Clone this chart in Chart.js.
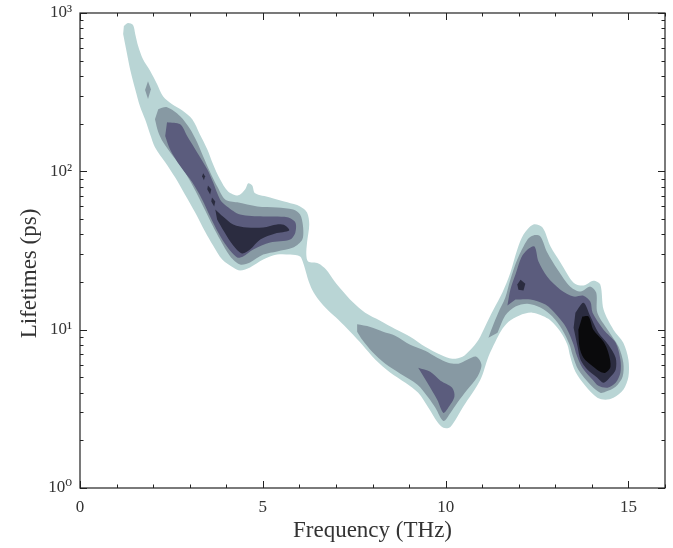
<!DOCTYPE html>
<html>
<head>
<meta charset="utf-8">
<script src="https://cdn.jsdelivr.net/npm/chart.js@4.4.1/dist/chart.umd.min.js"></script>
<style>
  html, body { margin: 0; padding: 0; background: #fff; }
  canvas { display: block; }
</style>
</head>
<body>
<canvas id="contourChart" width="673" height="548"></canvas>
<script>
/**
 * Phonon lifetimes vs frequency, filled density contours
 */

// contour outlines: [frequency THz, lifetime ps]
const outerBand = [
    [1.20, 828], [1.31, 865], [1.45, 839], [1.51, 736], [1.59, 618], [1.72, 512], [1.92, 430], [2.11, 355],
    [2.27, 298], [2.52, 265], [2.79, 243], [3.07, 213], [3.28, 171], [3.48, 138], [3.64, 111], [3.83, 89.1],
    [4.05, 74.7], [4.33, 70.5], [4.52, 77.0], [4.60, 84.0], [4.71, 81.5], [4.79, 72.6], [5.20, 68.4], [5.67, 63.7],
    [6.02, 60.0], [6.21, 55.0], [6.27, 46.2], [6.21, 35.5], [6.19, 29.8], [6.24, 26.9], [6.52, 26.2], [6.73, 24.0],
    [6.95, 20.4], [7.17, 17.7], [7.45, 15.0], [7.80, 12.8], [8.21, 11.4], [8.62, 10.1], [9.03, 9.03], [9.44, 7.81],
    [9.86, 6.95], [10.18, 6.55], [10.46, 6.75], [10.68, 7.47], [10.90, 8.64], [11.09, 10.6], [11.31, 13.4], [11.55, 17.1],
    [11.77, 22.9], [11.96, 32.1], [12.13, 39.9], [12.40, 46.2], [12.65, 44.2], [12.87, 33.5], [13.14, 26.6], [13.50, 19.8],
    [13.77, 19.0], [14.04, 20.4], [14.23, 19.3], [14.32, 13.4], [14.59, 10.0], [14.86, 8.27], [15.00, 6.46], [15.00, 5.04],
    [14.86, 4.17], [14.59, 3.71], [14.37, 3.61], [14.15, 3.71], [13.82, 4.42], [13.55, 5.42], [13.41, 6.75], [13.33, 8.04],
    [13.14, 9.71], [12.81, 11.7], [12.37, 12.8], [12.02, 12.3], [11.72, 11.2], [11.52, 9.86], [11.36, 8.40], [11.17, 6.75],
    [10.95, 4.83], [10.48, 3.26], [10.13, 2.43], [9.94, 2.40], [9.77, 2.62], [9.53, 3.21], [9.25, 3.99], [8.90, 4.62],
    [8.49, 5.35], [8.08, 6.46], [7.72, 8.04], [7.39, 9.71], [7.06, 11.6], [6.79, 13.2], [6.52, 15.5], [6.35, 17.9],
    [6.24, 20.7], [6.16, 24.0], [6.10, 26.6], [6.02, 29.0], [5.75, 29.8], [5.39, 29.8], [5.01, 27.7], [4.65, 24.7],
    [4.38, 23.6], [4.19, 24.7], [3.89, 27.7], [3.64, 34.0], [3.42, 41.7], [3.15, 55.0], [2.87, 71.5], [2.60, 91.6],
    [2.33, 114], [2.05, 142], [1.92, 171], [1.78, 213], [1.64, 258], [1.51, 330], [1.37, 442], [1.26, 592], [1.18, 736]
];

const grayDiamond = [[1.86, 371], [1.94, 330], [1.86, 286], [1.78, 326]];

const grayLeft = [
    [2.14, 247], [2.38, 254], [2.74, 223], [3.01, 185], [3.20, 153], [3.37, 124], [3.56, 98.6], [3.75, 80.4],
    [3.97, 66.5], [4.30, 63.7], [4.85, 60.0], [5.39, 59.2], [5.83, 57.5], [6.02, 53.4], [6.10, 44.9], [6.08, 37.1],
    [5.83, 33.0], [5.39, 31.2], [5.01, 29.8], [4.65, 26.6], [4.38, 25.8], [4.11, 29.0], [3.83, 37.1], [3.64, 44.9],
    [3.37, 60.0], [3.09, 80.4], [2.82, 103], [2.55, 124], [2.27, 153], [2.14, 177], [2.05, 213]
];

const grayValley = [
    [7.58, 10.8], [7.94, 10.4], [8.29, 9.71], [8.62, 9.16], [9.03, 8.04], [9.44, 7.36], [9.77, 6.65], [10.07, 6.18],
    [10.35, 6.10], [10.59, 6.46], [10.84, 6.75], [10.98, 6.01], [10.87, 5.04], [10.59, 4.17], [10.32, 3.45], [10.13, 2.98],
    [9.94, 2.65], [9.72, 3.21], [9.53, 3.71], [9.23, 4.49], [8.76, 5.27], [8.35, 6.09], [7.99, 7.26], [7.72, 8.64],
    [7.58, 9.71]
];

const grayRight = [
    [11.17, 8.90], [11.28, 10.4], [11.44, 12.8], [11.63, 15.9], [11.77, 20.7], [11.96, 27.7], [12.24, 37.1], [12.40, 39.4],
    [12.59, 38.8], [12.78, 30.7], [13.06, 24.0], [13.41, 18.7], [13.69, 17.4], [13.96, 18.7], [14.12, 17.1], [14.15, 12.8],
    [14.43, 10.0], [14.73, 7.81], [14.86, 6.18], [14.84, 5.04], [14.65, 4.36], [14.37, 4.05], [14.23, 3.99], [13.96, 4.49],
    [13.63, 5.58], [13.47, 6.95], [13.39, 8.04], [13.19, 10.0], [12.92, 12.1], [12.59, 13.8], [12.24, 14.6], [11.91, 14.0],
    [11.63, 12.3], [11.42, 9.57]
];

const slateLeft = [
    [2.38, 204], [2.74, 198], [2.93, 167], [3.20, 132], [3.48, 103], [3.64, 85.2], [3.83, 66.5], [4.02, 60.0],
    [4.38, 53.4], [5.01, 51.9], [5.67, 51.2], [5.89, 47.5], [5.89, 41.1], [5.75, 37.1], [5.20, 35.5], [4.74, 32.1],
    [4.46, 29.0], [4.30, 28.6], [4.02, 33.5], [3.78, 41.1], [3.56, 51.9], [3.34, 66.5], [3.07, 85.2], [2.74, 108],
    [2.46, 138], [2.33, 167]
];

const slateValley = [
    [9.25, 5.75], [9.58, 5.42], [9.86, 4.76], [10.18, 4.30], [10.24, 3.77], [10.07, 3.21], [9.94, 2.98], [9.77, 3.61],
    [9.50, 4.62]
];

const slateRight = [
    [11.69, 14.2], [11.77, 17.9], [11.91, 22.3], [12.07, 28.6], [12.24, 32.1], [12.43, 33.5], [12.54, 26.9], [12.78, 21.6],
    [13.14, 17.9], [13.50, 16.2], [13.77, 16.4], [13.96, 15.0], [14.02, 12.8], [14.32, 10.0], [14.65, 8.27], [14.78, 6.46],
    [14.78, 5.35], [14.65, 4.62], [14.43, 4.30], [14.18, 4.42], [14.02, 4.83], [13.74, 5.75], [13.58, 6.95], [13.50, 8.04],
    [13.30, 10.3], [13.03, 12.4], [12.73, 14.4], [12.32, 15.5], [11.91, 15.5]
];

const darkLeft = [
    [3.70, 57.5], [3.91, 51.9], [4.19, 46.2], [4.57, 44.2], [5.01, 44.2], [5.39, 46.2], [5.61, 45.5], [5.72, 42.3],
    [5.34, 40.5], [4.93, 37.1], [4.65, 32.1], [4.43, 30.3], [4.19, 34.0], [3.94, 41.7], [3.75, 49.7]
];
const darkFleckA = [[3.37, 97.1], [3.42, 93.0], [3.39, 87.7], [3.34, 93.0]];
const darkFleckB = [[3.50, 81.5], [3.59, 77.0], [3.56, 71.5], [3.48, 77.0]];
const darkFleckC = [[3.61, 68.4], [3.70, 64.6], [3.67, 60.0], [3.59, 64.6]];
const darkSpot = [[12.05, 20.7], [12.18, 19.5], [12.13, 17.7], [11.99, 17.9], [11.96, 19.3]];

const darkRight = [
    [13.55, 12.8], [13.77, 14.8], [13.96, 12.1], [14.18, 9.57], [14.45, 8.04], [14.65, 6.65], [14.65, 5.58], [14.51, 5.04],
    [14.32, 4.62], [14.15, 4.97], [13.88, 5.58], [13.69, 6.46], [13.61, 7.81], [13.50, 10.3]
];

const blackCore = [
    [13.74, 12.1], [13.91, 12.1], [14.04, 10.0], [14.32, 8.40], [14.45, 7.15], [14.51, 5.83], [14.37, 5.35], [14.23, 5.42],
    [14.04, 5.83], [13.77, 6.65], [13.66, 7.81], [13.63, 10.0]
];

// axis ticks
const xTickLabels = [0, 5, 10, 15];
const xMinorTicks = [0, 1, 2, 3, 4, 5, 6, 7, 8, 9, 10, 11, 12, 13, 14, 15, 16];
const yTickLabels = [1, 10, 100, 1000];
const yMinorTicks = [1, 2, 3, 4, 5, 6, 7, 8, 9, 10, 20, 30, 40, 50, 60, 70, 80, 90,
    100, 200, 300, 400, 500, 600, 700, 800, 900, 1000];

const levels = [
    { color: '#b9d5d5', shapes: [outerBand] },
    { color: '#8799a3', shapes: [grayDiamond, grayLeft, grayValley, grayRight] },
    { color: '#5b5c7d', shapes: [slateLeft, slateValley, slateRight] },
    { color: '#2b2c40', shapes: [darkLeft, darkFleckA, darkFleckB, darkFleckC, darkSpot, darkRight] },
    { color: '#0a0a0c', shapes: [blackCore] }
];

const SUPERSCRIPT = ['\u2070', '\u00b9', '\u00b2', '\u00b3'];
const FONT = "'Liberation Serif', 'DejaVu Serif', serif";

const datasets = [];
levels.forEach((level, i) => {
    level.shapes.forEach(shape => {
        datasets.push({
            data: shape.map(([x, y]) => ({ x, y })),
            backgroundColor: level.color,
            borderWidth: 0,
            pointRadius: 0,
            fill: 'shape',
            tension: shape.length > 6 ? 0.3 : 0,
            order: levels.length - i
        });
    });
});

// inward tick marks on all four sides plus the frame
const frameTicks = {
    id: 'frameTicks',
    afterDatasetsDraw(chart) {
        const { ctx, chartArea: a, scales: { x, y } } = chart;
        ctx.save();
        ctx.strokeStyle = '#222';
        ctx.lineWidth = 1;
        ctx.beginPath();
        xMinorTicks.forEach(v => {
            const px = Math.round(x.getPixelForValue(v)) + 0.5;
            const len = xTickLabels.includes(v) ? 7 : 3.5;
            ctx.moveTo(px, a.bottom); ctx.lineTo(px, a.bottom - len);
            ctx.moveTo(px, a.top); ctx.lineTo(px, a.top + len);
        });
        yMinorTicks.forEach(v => {
            const py = Math.round(y.getPixelForValue(v)) + 0.5;
            const len = yTickLabels.includes(v) ? 7 : 3.5;
            ctx.moveTo(a.left, py); ctx.lineTo(a.left + len, py);
            ctx.moveTo(a.right, py); ctx.lineTo(a.right - len, py);
        });
        ctx.stroke();
        ctx.lineWidth = 1.2;
        ctx.strokeRect(a.left, a.top, a.right - a.left, a.bottom - a.top);
        ctx.restore();
    }
};

new Chart(document.getElementById('contourChart'), {
    type: 'line',
    data: { datasets },
    options: {
        responsive: false,
        animation: false,
        devicePixelRatio: 1,
        layout: { padding: { top: 13, right: 8, left: 0, bottom: 0 } },
        plugins: {
            legend: { display: false },
            tooltip: { enabled: false }
        },
        scales: {
            x: {
                type: 'linear',
                min: 0,
                max: 16,
                grid: { display: false, drawTicks: false },
                border: { display: false },
                afterBuildTicks: axis => { axis.ticks = xTickLabels.map(value => ({ value })); },
                afterFit: axis => { axis.height = 60; },
                ticks: {
                    color: '#333',
                    padding: 9,
                    font: { family: FONT, size: 17 }
                },
                title: {
                    display: true,
                    text: 'Frequency (THz)',
                    color: '#333',
                    padding: { top: 0, bottom: 3 },
                    font: { family: FONT, size: 23 }
                }
            },
            y: {
                type: 'logarithmic',
                min: 1,
                max: 1000,
                grid: { display: false, drawTicks: false },
                border: { display: false },
                afterBuildTicks: axis => { axis.ticks = yTickLabels.map(value => ({ value })); },
                afterFit: axis => {
                    axis.width = 80;
                    axis.paddingTop = 0;
                    axis.paddingBottom = 0;
                },
                ticks: {
                    color: '#333',
                    padding: 8,
                    font: { family: FONT, size: 17 },
                    callback: value => '10' + SUPERSCRIPT[Math.round(Math.log10(value))]
                },
                title: {
                    display: true,
                    // trailing spaces push the label down like the original
                    text: 'Lifetimes (ps)\u00a0\u00a0\u00a0\u00a0\u00a0\u00a0\u00a0\u00a0',
                    color: '#333',
                    padding: { top: 16, bottom: 0 },
                    font: { family: FONT, size: 23 }
                }
            }
        }
    },
    plugins: [frameTicks]
});
</script>
</body>
</html>
